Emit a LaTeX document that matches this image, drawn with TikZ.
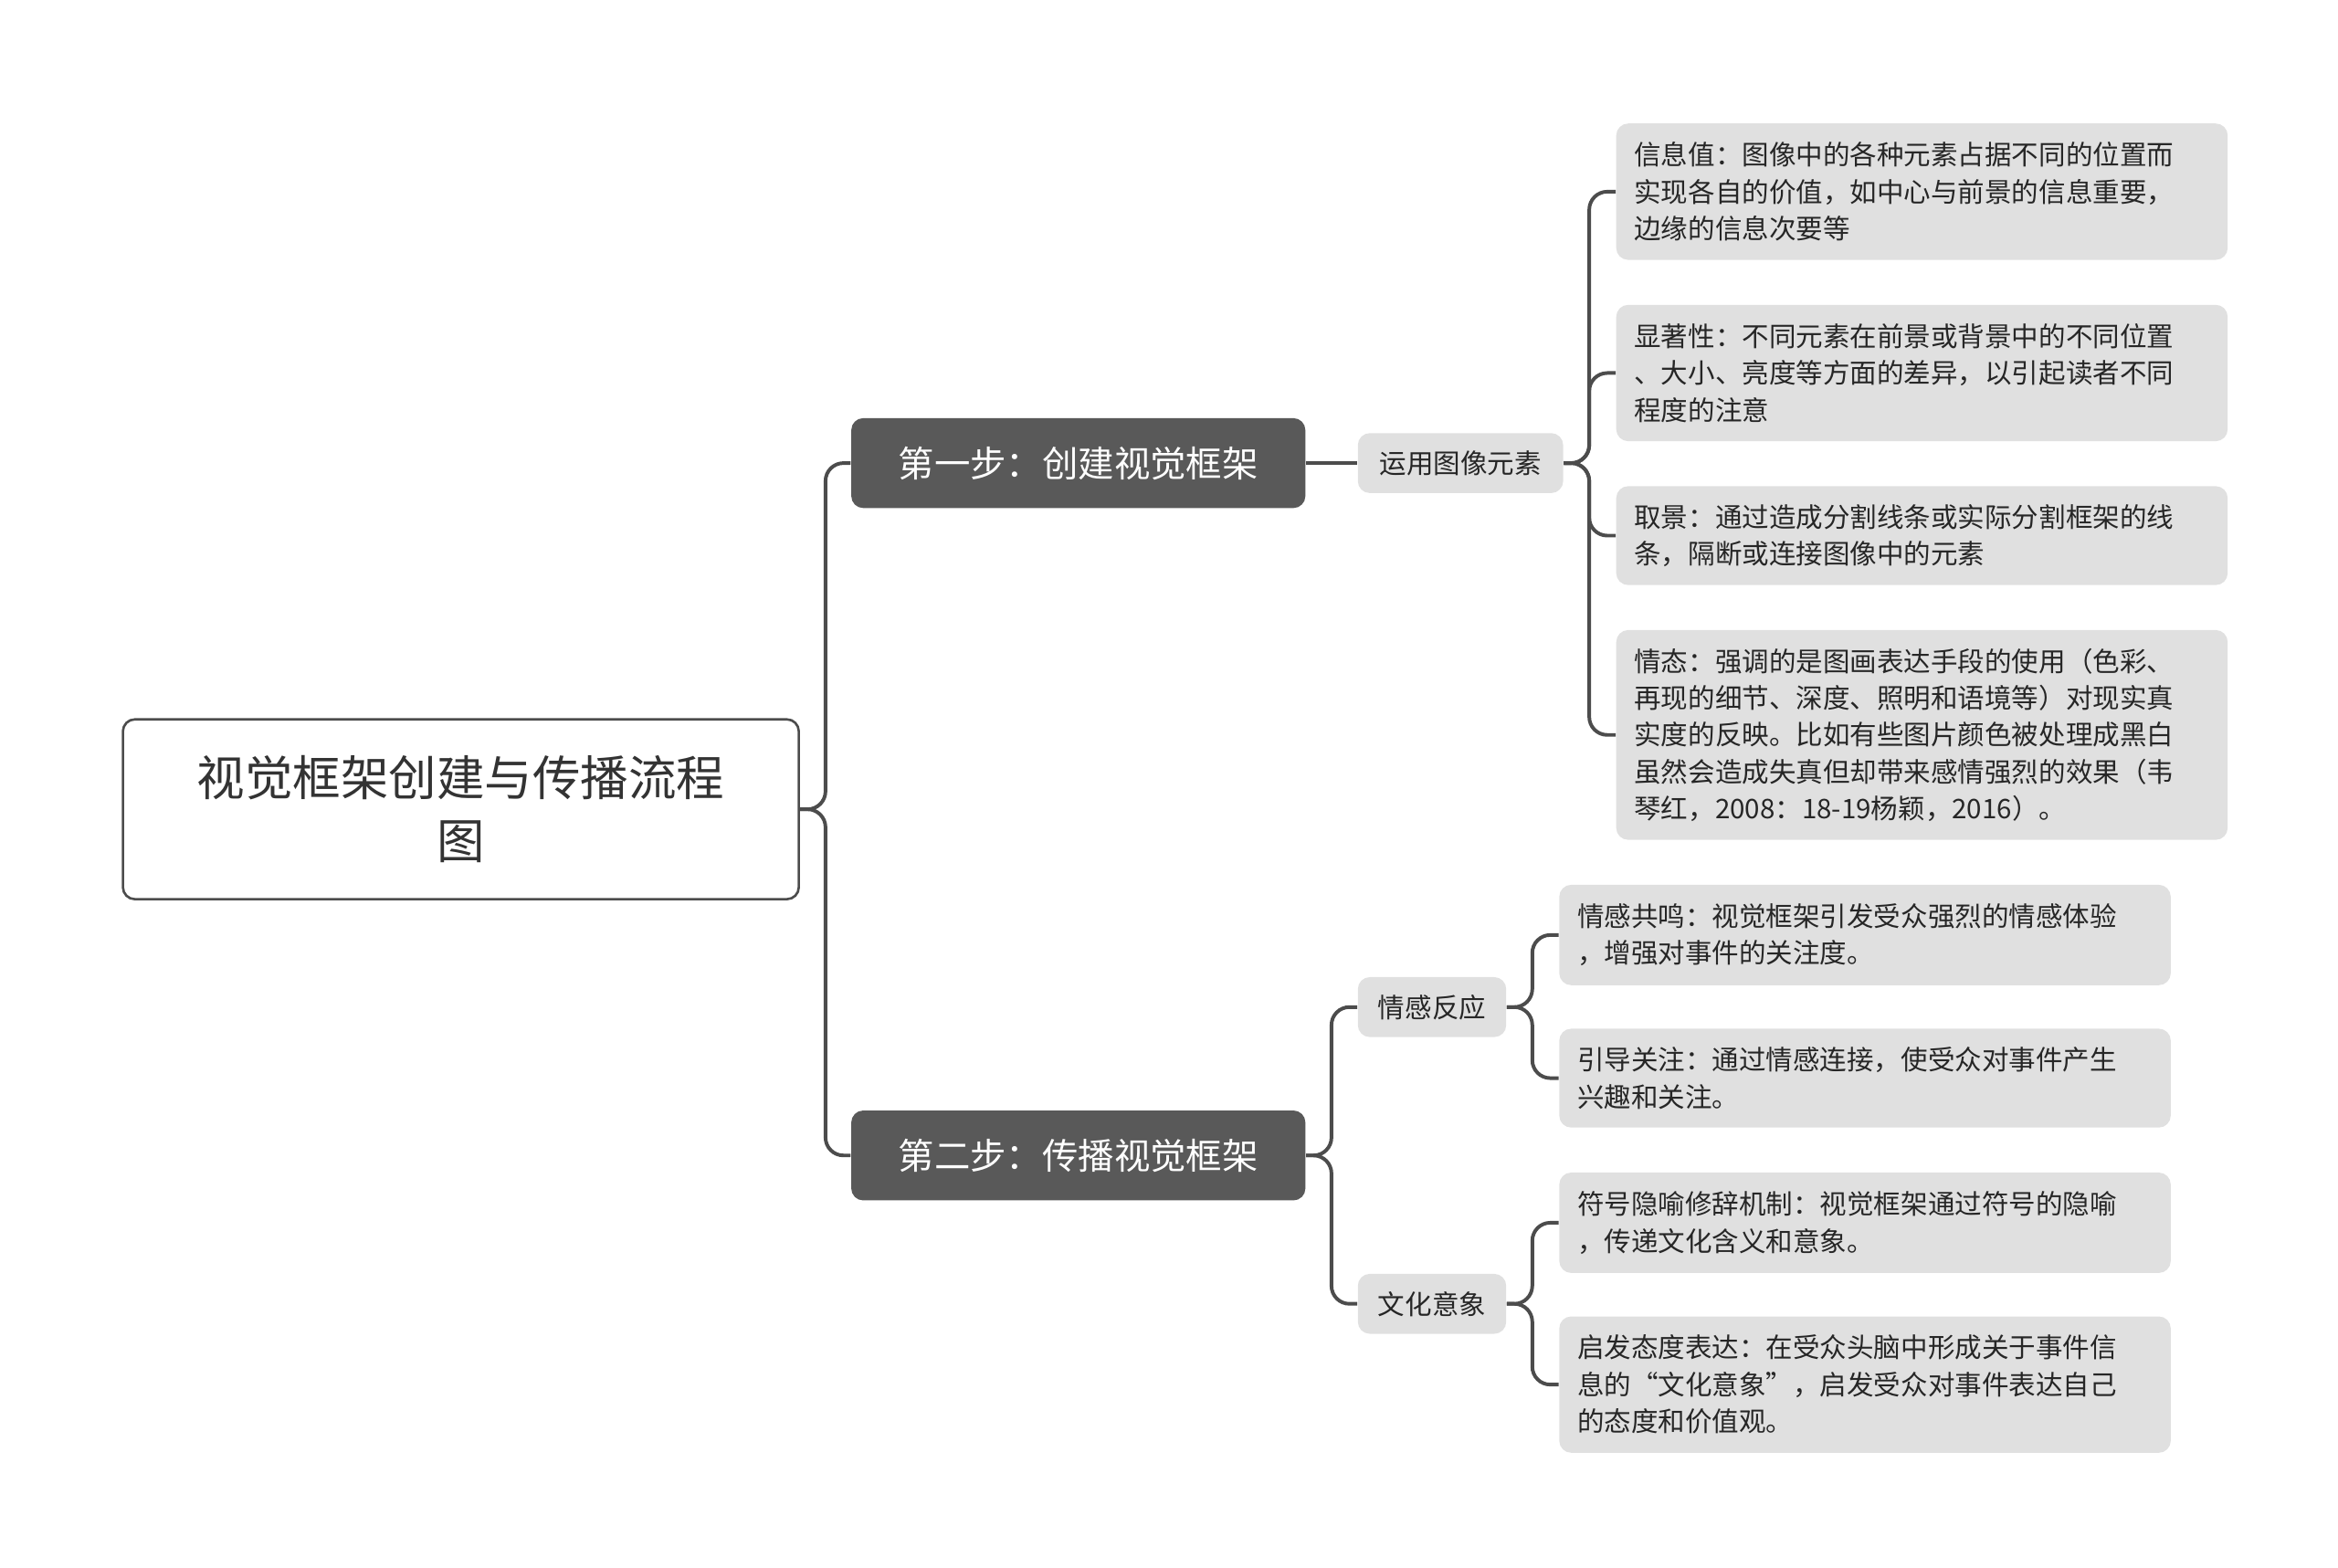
\documentclass[tikz,border=0pt]{standalone}
\usepackage{fontspec}
\setmainfont{Noto Sans CJK SC}
\begin{document}
\begin{tikzpicture}[x=0.5pt,y=-0.5pt,
  conn/.style={draw=black!70,line width=1.2pt,rounded corners=6pt},
  rootbox/.style={draw=black!70,line width=0.8pt,fill=white,rounded corners=4pt,minimum width=225.5pt,minimum height=60pt,font=\fontsize{16}{21}\selectfont,align=center,text=black!80},
  stepbox/.style={fill=black!65,rounded corners=4pt,minimum width=151.5pt,minimum height=30pt,font=\fontsize{12}{15}\selectfont,text=white},
  midbox/.style={fill=black!12,rounded corners=4pt,minimum height=20pt,font=\fontsize{9}{12}\selectfont,text=black!85,inner xsep=5pt},
  leafbox/.style={fill=black!12,rounded corners=4pt,font=\fontsize{9}{12.3}\selectfont,text=black!85,align=left,inner xsep=6pt,anchor=north west,text width=192pt}]
\useasboundingbox (0,0) rectangle (1560,1046);
\node[rootbox] (root) at (307.5,540) {视觉框架创建与传播流程\\图};
\node[stepbox] (s1) at (719.5,309) {第一步：创建视觉框架};
\node[stepbox] (s2) at (719.5,771) {第二步：传播视觉框架};
\node[midbox,minimum width=68.5pt] (m1) at (974.5,309) {运用图像元素};
\node[midbox,minimum width=49.5pt] (m2) at (955.5,672) {情感反应};
\node[midbox,minimum width=49.5pt] (m3) at (955.5,870) {文化意象};
\node[leafbox,minimum height=45.5pt] (a1) at (1078,82) {信息值：图像中的各种元素占据不同的位置而\\实现各自的价值，如中心与前景的信息重要，\\边缘的信息次要等};
\node[leafbox,minimum height=45.5pt] (a2) at (1078,203) {显著性：不同元素在前景或背景中的不同位置\\、大小、亮度等方面的差异，以引起读者不同\\程度的注意};
\node[leafbox,minimum height=33pt] (a3) at (1078,324) {取景：通过造成分割线条或实际分割框架的线\\条，隔断或连接图像中的元素};
\node[leafbox,minimum height=70pt] (a4) at (1078,420) {情态：强调的是图画表达手段的使用（色彩、\\再现的细节、深度、照明和语境等）对现实真\\实度的反映。比如有些图片颜色被处理成黑白\\虽然会造成失真但却带来感情强烈的效果（韦\\琴红，2008：18-19杨颖，2016）。};
\node[leafbox,minimum height=33.5pt] (b1) at (1040,590) {情感共鸣：视觉框架引发受众强烈的情感体验\\，增强对事件的关注度。};
\node[leafbox,minimum height=33pt] (b2) at (1040,686) {引导关注：通过情感连接，使受众对事件产生\\兴趣和关注。};
\node[leafbox,minimum height=33.5pt] (c1) at (1040,782) {符号隐喻修辞机制：视觉框架通过符号的隐喻\\，传递文化含义和意象。};
\node[leafbox,minimum height=45.5pt] (c2) at (1040,878) {启发态度表达：在受众头脑中形成关于事件信\\息的“文化意象”，启发受众对事件表达自己\\的态度和价值观。};
\foreach \s in {s1,s2} \draw[conn] (root.east) -- ++(17,0) |- (\s.west);
\draw[conn] (s1.east) -- (m1.west);
\foreach \s in {m2,m3} \draw[conn] (s2.east) -- ++(17,0) |- (\s.west);
\foreach \s in {a1,a2,a3,a4} \draw[conn] (m1.east) -- ++(17,0) |- (\s.west);
\foreach \s in {b1,b2} \draw[conn] (m2.east) -- ++(17,0) |- (\s.west);
\foreach \s in {c1,c2} \draw[conn] (m3.east) -- ++(17,0) |- (\s.west);
\end{tikzpicture}
\end{document}
